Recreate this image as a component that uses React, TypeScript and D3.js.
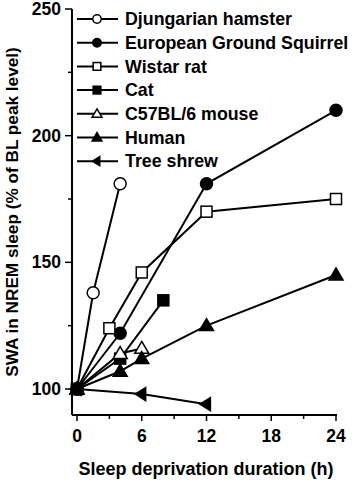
import React from 'react';
import * as d3 from 'd3';

type Pt = [number, number];

const hamster: Pt[] = [[0, 100], [1.5, 138], [4, 181]];
const squirrel: Pt[] = [[0, 100], [4, 122], [12, 181], [24, 210]];
const wistar: Pt[] = [[0, 100], [3, 124], [6, 146], [12, 170], [24, 175]];
const cat: Pt[] = [[0, 100], [4, 112], [8, 135]];
const mouse: Pt[] = [[0, 100], [4, 114], [6, 116]];
const human: Pt[] = [[0, 100], [4, 107], [6, 112], [12, 125], [24, 145]];
const shrew: Pt[] = [[0, 100], [6, 98], [12, 94]];

const xTicks = [0, 6, 12, 18, 24];
const xMinor = [3, 9, 15, 21];
const yTicks = [100, 150, 200, 250];
const yMinor = [125, 175, 225];

type Marker = 'circle' | 'square' | 'triangle' | 'left';

const seriesList: { name: string; data: Pt[]; marker: Marker; filled: boolean }[] = [
  { name: 'Djungarian hamster', data: hamster, marker: 'circle', filled: false },
  { name: 'European Ground Squirrel', data: squirrel, marker: 'circle', filled: true },
  { name: 'Wistar rat', data: wistar, marker: 'square', filled: false },
  { name: 'Cat', data: cat, marker: 'square', filled: true },
  { name: 'C57BL/6 mouse', data: mouse, marker: 'triangle', filled: false },
  { name: 'Human', data: human, marker: 'triangle', filled: true },
  { name: 'Tree shrew', data: shrew, marker: 'left', filled: true },
];

const font = 'Arial, "Liberation Sans", sans-serif';

function MarkerShape({ x, y, marker, filled, scale = 1 }: { x: number; y: number; marker: Marker; filled: boolean; scale?: number }) {
  const fill = filled ? '#000' : '#fff';
  const common = { fill, stroke: '#000', strokeWidth: 1.5 };
  if (marker === 'circle') return <circle cx={x} cy={y} r={6 * scale} {...common} />;
  if (marker === 'square') {
    const s = 11 * scale;
    return <rect x={x - s / 2} y={y - s / 2} width={s} height={s} {...common} />;
  }
  if (marker === 'triangle') {
    const h = 7 * scale;
    return <path d={`M${x},${y - h}L${x + h},${y + h * 0.7}L${x - h},${y + h * 0.7}Z`} {...common} />;
  }
  const h = 6.5 * scale;
  return <path d={`M${x - h},${y}L${x + h * 0.6},${y - h}L${x + h * 0.6},${y + h}Z`} {...common} />;
}

export default function App() {
  const width = 354;
  const height = 480;
  const x = d3.scaleLinear().domain([0, 24]).range([77, 336]);
  const y = d3.scaleLinear().domain([100, 250]).range([389, 9]);
  const axisX = 72;
  const axisY = 415;
  const line = d3.line<Pt>().x(d => x(d[0])).y(d => y(d[1]));

  return (
    <svg width={width} height={height} style={{ position: 'absolute', left: 0, top: 0 }} fontFamily={font} fontWeight="bold">
      {/* axes */}
      <line x1={axisX} x2={axisX} y1={y(250)} y2={axisY} stroke="#000" strokeWidth={2} />
      <line x1={axisX} x2={x(24) + 1} y1={axisY} y2={axisY} stroke="#000" strokeWidth={2} />
      {yTicks.map(t => (
        <g key={t}>
          <line x1={axisX - 7} x2={axisX} y1={y(t)} y2={y(t)} stroke="#000" strokeWidth={1.5} />
          <text x={axisX - 11} y={y(t)} dy="0.35em" textAnchor="end" fontSize={17.5}>{t}</text>
        </g>
      ))}
      {yMinor.map(t => (
        <line key={t} x1={axisX - 4} x2={axisX} y1={y(t)} y2={y(t)} stroke="#000" strokeWidth={1.5} />
      ))}
      {xTicks.map(t => (
        <g key={t}>
          <line x1={x(t)} x2={x(t)} y1={axisY} y2={axisY + 6} stroke="#000" strokeWidth={1.5} />
          <text x={x(t)} y={442} textAnchor="middle" fontSize={17.5}>{t}</text>
        </g>
      ))}
      {xMinor.map(t => (
        <line key={t} x1={x(t)} x2={x(t)} y1={axisY} y2={axisY + 4} stroke="#000" strokeWidth={1.5} />
      ))}
      <text x={206} y={475} textAnchor="middle" fontSize={18}>Sleep deprivation duration (h)</text>
      <text transform={`translate(18,${212}) rotate(-90)`} textAnchor="middle" fontSize={17.2}>
        SWA in NREM sleep (% of BL peak level)
      </text>

      {/* series */}
      {seriesList.map(s => (
        <g key={s.name}>
          <path d={line(s.data) ?? ''} fill="none" stroke="#000" strokeWidth={2} />
          {s.data.map((d, i) => (
            <MarkerShape key={i} x={x(d[0])} y={y(d[1])} marker={s.marker} filled={s.filled} />
          ))}
        </g>
      ))}

      {/* legend */}
      {seriesList.map((s, i) => {
        const ly = 19 + i * 23.7;
        return (
          <g key={s.name}>
            <line x1={77} x2={118} y1={ly} y2={ly} stroke="#000" strokeWidth={2} />
            <MarkerShape x={97} y={ly} marker={s.marker} filled={s.filled} scale={0.7} />
            <text x={125} y={ly} dy="0.35em" fontSize={17.8}>{s.name}</text>
          </g>
        );
      })}
    </svg>
  );
}
